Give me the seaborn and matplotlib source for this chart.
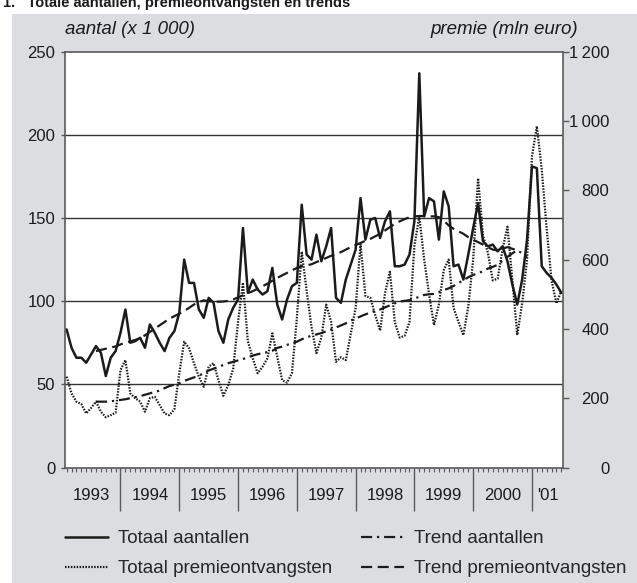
import numpy as np
import matplotlib
import matplotlib.pyplot as plt
import matplotlib.transforms as mtransforms
from matplotlib.lines import Line2D
from matplotlib.patches import Rectangle
import seaborn as sns

# ------------------------------
# Data (monthly, Jan 1993 - Jun 2001)
# ------------------------------
years = ["1993", "1994", "1995", "1996", "1997", "1998", "1999", "2000", "'01"]

# aantal (x 1 000)
aantallen = [
    83, 72, 66, 66, 63, 68, 73, 69, 55, 66, 70, 81,          # 1993
    95, 75, 76, 78, 72, 86, 81, 75, 70, 78, 82, 93,          # 1994
    125, 111, 111, 95, 90, 102, 99, 82, 75, 89, 96, 101,     # 1995
    144, 105, 113, 107, 104, 106, 120, 98, 89, 101, 109, 111,  # 1996
    158, 128, 125, 140, 124, 133, 144, 102, 99, 113, 122, 131,  # 1997
    162, 137, 149, 150, 138, 148, 154, 121, 121, 122, 128, 148,  # 1998
    237, 151, 162, 160, 137, 166, 157, 121, 122, 113, 128, 144,  # 1999
    159, 136, 133, 134, 130, 133, 124, 110, 98, 113, 137, 181,   # 2000
    180, 121, 117, 114, 110, 105,                                # 2001
]

# premie (mln euro)
premie = [
    262, 214, 190, 183, 156, 172, 190, 161, 145, 151, 158, 281,
    310, 214, 200, 190, 161, 200, 204, 180, 156, 151, 168, 272,
    363, 344, 301, 262, 233, 291, 301, 252, 207, 238, 285, 420,
    533, 365, 315, 272, 291, 315, 387, 320, 252, 245, 272, 430,
    623, 510, 405, 330, 375, 470, 420, 305, 318, 310, 385, 460,
    645, 495, 490, 440, 395, 503, 565, 420, 375, 380, 420, 640,
    724, 600, 500, 411, 470, 570, 600, 460, 420, 382, 464, 600,
    835, 670, 620, 540, 545, 630, 695, 541, 382, 474, 600, 897,
    985, 860, 690, 540, 474, 510,
]

# trends start in July 1993 (month index 6)
trend_start = 6
trend_aantallen = [
    70.0, 70.7, 71.4, 72.1, 72.8, 74.0,
    75.0, 75.8, 76.7, 77.7, 79.5, 81.5, 83.5, 85.5, 87.5, 89.5, 91.0, 92.5,
    94.0, 96.0, 98.0, 99.5, 100.5, 100.0, 99.7, 99.7, 99.8, 100.2, 101.0, 102.3,
    103.5, 104.8, 106.0, 107.5, 109.0, 110.5, 112.3, 114.0, 115.5, 117.0, 118.5, 120.0,
    121.0, 121.5, 122.2, 123.5, 124.8, 126.0, 127.3, 128.3, 129.5, 131.0, 132.5, 133.8,
    135.0, 136.3, 137.5, 139.0, 140.5, 142.5, 144.5, 146.5, 148.0, 149.3, 150.5, 151.0,
    151.2, 151.2, 151.0, 151.0, 150.5, 148.5, 145.5, 143.5, 142.0, 140.5, 138.5, 137.0,
    135.5, 134.0, 132.5, 131.0, 130.5, 131.5, 132.5, 131.5, 130.5,
]
trend_premie = [
    190, 190, 190, 191, 193, 195,
    197, 200, 203, 206, 210, 214, 218, 222, 229, 235, 239, 243,
    250, 255, 260, 265, 272, 280, 285, 290, 296, 301, 305, 309,
    313, 318, 323, 327, 330, 333, 337, 345, 349, 354, 358, 363,
    370, 376, 380, 384, 388, 393, 398, 404, 410, 416, 424, 430,
    436, 442, 447, 452, 456, 462, 468, 474, 479, 481, 483, 487,
    493, 498, 500, 501, 506, 512, 517, 524, 532, 541, 549, 556,
    560, 567, 574, 579, 585, 597, 608, 618, 627, 618, 608,
]

left_ticks = [0, 50, 100, 150, 200, 250]
right_ticks = [0, 200, 400, 600, 800, 1000, 1200]

# ------------------------------
# Style
# ------------------------------
sns.set_style("white")
plt.rcParams['font.family'] = ['Liberation Sans', 'DejaVu Sans']
plt.rcParams['lines.scale_dashes'] = False

ink = '#1b1b1b'
axis_gray = '#5a5a5a'
panel = '#dcdde1'

solid_ls = '-'
dotted_ls = (0, (1.1, 1.0))
dashed_ls = (0, (8, 4))
dashdot_ls = (0, (8, 3.5, 1.6, 3.5))

# x position: month m is drawn at m + 1 (year boundaries at multiples of 12)
x = np.arange(len(aantallen)) + 1
xt_a = np.arange(len(trend_aantallen)) + trend_start + 1
xt_p = np.arange(len(trend_premie)) + trend_start + 1

fig = plt.figure(figsize=(6.37, 5.83), dpi=100)
fig.patch.set_facecolor('white')
fig.add_artist(Rectangle((12 / 637, 0), 1, 1 - 14 / 583, transform=fig.transFigure,
                         facecolor=panel, edgecolor='none', zorder=-10))

ax = fig.add_axes([65 / 637, 1 - 467.5 / 583, (563.3 - 65) / 637, (467.5 - 51.7) / 583])
ax.set_facecolor('white')
ax2 = ax.twinx()

# ------------------------------
# Lines
# ------------------------------
sns.lineplot(x=x, y=aantallen, ax=ax, color=ink, linewidth=1.8, linestyle=solid_ls)
sns.lineplot(x=xt_a, y=trend_aantallen, ax=ax, color=ink, linewidth=1.6, linestyle=dashed_ls)
sns.lineplot(x=x, y=premie, ax=ax2, color=ink, linewidth=1.6, linestyle=dotted_ls)
sns.lineplot(x=xt_p, y=trend_premie, ax=ax2, color=ink, linewidth=1.6, linestyle=dashdot_ls)

# ------------------------------
# Axes
# ------------------------------
ax.set_xlim(0.67, 102.4)
ax2.set_xlim(0.67, 102.4)
ax.set_ylim(0, 250)
ax2.set_ylim(0, 1200)

for g in [50, 100, 150, 200]:
    ax.axhline(g, color='#333333', linewidth=1.0, zorder=0.5)

ax.set_yticks(left_ticks)
ax.set_yticklabels([str(v) for v in left_ticks])
ax.tick_params(axis='y', left=True, right=False, direction='out', length=3, width=1,
               color=axis_gray, labelsize=12, labelcolor=ink, pad=4)

ax2.set_yticks(right_ticks)
ax2.set_yticklabels([f"{v:,}".replace(",", "\u2009") for v in right_ticks])
ax2.tick_params(axis='y', right=True, left=False, direction='out', length=4, width=1,
                color=axis_gray, labelsize=12, labelcolor=ink, pad=29)
for lab in ax2.get_yticklabels():
    lab.set_horizontalalignment('right')

bounds = [12 * k for k in range(1, 9)]
ax.set_xticks(bounds)
ax.set_xticklabels([])
ax.set_xticks(np.arange(1, 103), minor=True)
ax.tick_params(axis='x', which='major', bottom=True, direction='out', length=31, width=1,
               color=axis_gray)
ax.tick_params(axis='x', which='minor', bottom=True, direction='out', length=3, width=0.8,
               color=axis_gray)
ax2.tick_params(axis='x', which='both', bottom=False, length=0)

centers = [6 + 12 * k for k in range(8)] + [(96 + 102.4) / 2]
trans = mtransforms.blended_transform_factory(ax.transData, ax.transAxes)
for c, lab in zip(centers, years):
    ax.text(c, -0.068, lab, transform=trans, ha='center', va='center', fontsize=12, color=ink)

for s in ['left', 'bottom', 'top']:
    ax.spines[s].set_color(axis_gray)
    ax.spines[s].set_linewidth(1.2)
ax.spines['right'].set_visible(False)
for s in ['left', 'bottom', 'top']:
    ax2.spines[s].set_visible(False)
ax2.spines['right'].set_color(axis_gray)
ax2.spines['right'].set_linewidth(1.2)
ax.set_xlabel('')
ax.set_ylabel('')
ax2.set_ylabel('')

# headers
fig.text(65 / 637, 1 - 30 / 583, "aantal (x 1 000)", style='italic', fontsize=13.5,
         color=ink, ha='left', va='center')
fig.text(578 / 637, 1 - 30 / 583, "premie (mln euro)", style='italic', fontsize=13.5,
         color=ink, ha='right', va='center')
fig.text(3 / 637, 1 - 7 / 583, "1.   Totale aantallen, premieontvangsten en trends",
         fontsize=10.5, weight='bold', color=ink, ha='left', va='baseline')

# ------------------------------
# Legend
# ------------------------------
handles = [
    Line2D([], [], color=ink, linewidth=1.8, linestyle=solid_ls),
    Line2D([], [], color=ink, linewidth=1.6, linestyle=dotted_ls),
    Line2D([], [], color=ink, linewidth=1.6, linestyle=dashdot_ls),
    Line2D([], [], color=ink, linewidth=1.6, linestyle=dashed_ls),
]
labels = ["Totaal aantallen", "Totaal premieontvangsten",
          "Trend aantallen", "Trend premieontvangsten"]
fig.legend(handles, labels, ncol=2, loc='upper left',
           bbox_to_anchor=(65 / 637, 1 - 530 / 583), frameon=False,
           fontsize=13.5, handlelength=2.3, handletextpad=0.55,
           columnspacing=1.5, labelspacing=0.7, borderpad=0, borderaxespad=0)

fig.savefig("out.png", dpi=100)
